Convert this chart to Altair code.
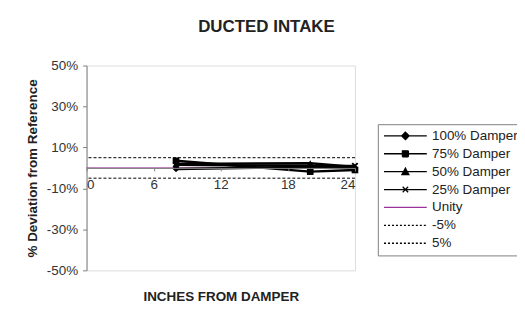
import altair as alt
import pandas as pd

# ---- data ----
inches = [8, 20, 24]
series_names = ["100% Damper", "75% Damper", "50% Damper", "25% Damper"]
damper_100 = [-0.5, 0.5, 0.0]
damper_75 = [3.5, -1.8, -1.0]
damper_50 = [2.0, 2.3, 0.5]
damper_25 = [1.5, 1.0, 1.0]
unity_x = [0, 24]
unity_y = [0, 0]
band_names = ["-5%", "5%"]
band_values = [-5, 5]
legend_order = series_names + ["Unity"] + band_names
y_ticks = [-50, -30, -10, 10, 30, 50]
x_ticks = [0, 6, 12, 18, 24]

rows = []
for name, vals in zip(series_names, [damper_100, damper_75, damper_50, damper_25]):
    for xv, yv in zip(inches, vals):
        rows.append({"series": name, "x": xv, "y": yv})
df = pd.DataFrame(rows)
unity_df = pd.DataFrame({"series": "Unity", "x": unity_x, "y": unity_y})
band_df = pd.DataFrame({"series": band_names, "y": band_values})
legend_df = pd.DataFrame({"series": legend_order, "x": [12] * 7, "y": [999] * 7})

FONT = "Liberation Sans"
GRAY = "#808080"

xscale = alt.Scale(domain=[0, 24], nice=False, zero=False)
yscale = alt.Scale(domain=[-50, 50], nice=False)

xaxis = alt.Axis(values=x_ticks, grid=False, offset=-103, domainColor=GRAY, tickColor=GRAY,
                 tickSize=3, labelPadding=7, labelFont=FONT, labelFontSize=13.5, labelColor="#333333",
                 title="INCHES FROM DAMPER", titleFont=FONT, titleFontSize=13.5, titleFontWeight="bold",
                 titleColor="#222222", titleY=122, zindex=1)
yaxis = alt.Axis(values=y_ticks, grid=False, domainColor=GRAY, tickColor=GRAY, tickSize=4,
                 labelPadding=5, labelFont=FONT, labelFontSize=13.5, labelColor="#333333",
                 labelExpr="datum.value + '%'",
                 title="% Deviation from Reference", titleFont=FONT, titleFontSize=13.5,
                 titleFontWeight="bold", titleColor="#222222", titlePadding=7)

X = alt.X("x:Q", scale=xscale, axis=xaxis)
Y = alt.Y("y:Q", scale=yscale, axis=yaxis)

unity = alt.Chart(unity_df).mark_line(color="#993399", strokeWidth=1).encode(x=X, y=Y)

bands = alt.Chart(band_df).mark_rule(color="black", strokeDash=[3, 2], strokeWidth=1).encode(y=Y)

lines = alt.Chart(df).mark_line(color="black", strokeWidth=2.4).encode(
    x=X, y=Y, detail="series:N")

shapes = {"100% Damper": "diamond", "75% Damper": "square",
          "50% Damper": "triangle-up", "25% Damper": "cross"}
point_layers = []
for name in series_names:
    sh = shapes[name]
    if sh == "cross":
        m = alt.Chart(df).mark_point(shape="M-1,-1L1,1M-1,1L1,-1", size=30, color="black",
                                     strokeWidth=2, filled=False, opacity=1)
    else:
        m = alt.Chart(df).mark_point(shape=sh, size=45, color="black", filled=True, opacity=1)
    point_layers.append(m.transform_filter(alt.datum.series == name).encode(x=X, y=Y))

line_seg = "M-4.3,0H4.3"
legend_paths = [
    line_seg + "M0,-0.75L0.75,0L0,0.75L-0.75,0Z",
    line_seg + "M-0.6,-0.6H0.6V0.6H-0.6Z",
    line_seg + "M0,-0.7L0.7,0.6H-0.7Z",
    line_seg + "M-0.55,-0.55L0.55,0.55M-0.55,0.55L0.55,-0.55",
    line_seg,
    line_seg,
    line_seg,
]
legend = alt.Legend(title=None, orient="none", legendX=293, legendY=59, labelFont=FONT,
                    labelFontSize=13.5, labelColor="#222222", strokeColor=GRAY, padding=5,
                    symbolOffset=16, labelOffset=20, rowPadding=3, symbolStrokeWidth=1.3,
                    symbolSize=100)
legend_layer = alt.Chart(legend_df).mark_point(size=100, clip=True, filled=False, opacity=1).encode(
    x=X, y=Y,
    shape=alt.Shape("series:N", scale=alt.Scale(domain=legend_order, range=legend_paths), legend=legend),
    stroke=alt.Stroke("series:N", scale=alt.Scale(domain=legend_order,
                      range=["black"] * 4 + ["#993399", "black", "black"]), legend=legend),
    fill=alt.Fill("series:N", scale=alt.Scale(domain=legend_order,
                  range=["black"] * 4 + ["transparent"] * 3), legend=legend),
    strokeDash=alt.StrokeDash("series:N", scale=alt.Scale(domain=legend_order,
                              range=[[1, 0]] * 5 + [[2, 2]] * 2), legend=legend),
)

chart = alt.layer(unity, bands, lines, *point_layers, legend_layer).properties(
    width=270, height=206,
    title=alt.TitleParams("DUCTED INTAKE", font=FONT, fontSize=17, fontWeight="bold",
                          color="#222222", offset=23, anchor="middle", dx=46),
    autosize=alt.AutoSizeParams(type="none"),
    padding={"left": 79, "top": 57, "right": 163, "bottom": 35},
).configure_view(stroke=GRAY, strokeWidth=1).configure(background="white")

chart.save("out.html", embed_options={"renderer": "svg", "actions": False})
